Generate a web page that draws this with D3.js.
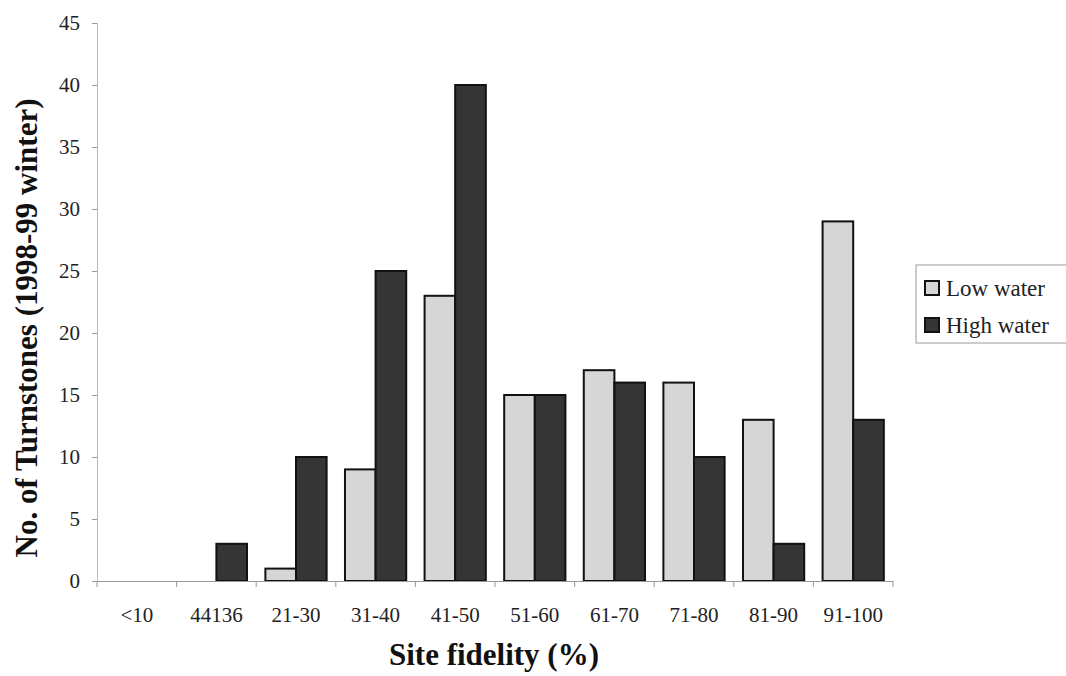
<!DOCTYPE html>
<html><head><meta charset="utf-8">
<script src="https://cdn.jsdelivr.net/npm/d3@7/dist/d3.min.js"></script>
<style>body{margin:0;background:#fff}svg{display:block}text{font-family:"Liberation Serif","Times New Roman",serif}</style>
</head><body>
<svg id="c" width="1066" height="676"></svg>
<script>
const categories = ["<10","44136","21-30","31-40","41-50","51-60","61-70","71-80","81-90","91-100"];
const lowWater = [0,0,1,9,23,15,17,16,13,29];
const highWater = [0,3,10,25,40,15,16,10,3,13];
const seriesNames = ["Low water","High water"];
const yTicks = [0,5,10,15,20,25,30,35,40,45];

(function(){
const svg = d3.select("#c");
const mLeft = 97, mRight = 893, mTop = 23, mBottom = 581;
const x = d3.scaleBand().domain(categories).range([mLeft, mRight]).paddingInner(0).paddingOuter(0);
const xs = d3.scaleBand().domain(seriesNames).range([0, x.bandwidth()]).paddingInner(0).paddingOuter(0.3);
const y = d3.scaleLinear().domain([0,45]).range([mBottom, mTop]);
const fills = ["#d6d6d6","#353535"];

// bars
const data = [lowWater, highWater];
seriesNames.forEach((s, si) => {
  svg.append("g").selectAll("rect").data(categories.map((c,i)=>({c, v:data[si][i]})).filter(d=>d.v>0))
    .join("rect")
    .attr("x", d => x(d.c) + xs(s))
    .attr("y", d => y(d.v))
    .attr("width", xs.bandwidth())
    .attr("height", d => y(0) - y(d.v))
    .attr("fill", fills[si])
    .attr("stroke", "#111")
    .attr("stroke-width", 2);
});

// y axis
const ya = svg.append("g").attr("transform", `translate(${mLeft},0)`)
  .call(d3.axisLeft(y).tickValues(yTicks).tickSize(5).tickPadding(12));
ya.select(".domain").attr("stroke", "#bbb");
ya.selectAll(".tick line").attr("stroke", "#999");
ya.selectAll(".tick text").attr("font-size", 21).attr("fill", "#222").attr("font-family", '"Liberation Serif",serif');

// x axis
const xa = svg.append("g").attr("transform", `translate(0,${mBottom})`)
  .call(d3.axisBottom(x).tickSize(0).tickPadding(26));
xa.select(".domain").attr("stroke", "#999");
xa.selectAll(".tick text").attr("font-size", 21).attr("fill", "#222").attr("font-family", '"Liberation Serif",serif');
const bounds = categories.map(c => x(c)).concat([mRight]);
svg.append("g").selectAll("line").data(bounds).join("line")
  .attr("x1", d => d).attr("x2", d => d).attr("y1", mBottom).attr("y2", mBottom + 6)
  .attr("stroke", "#999");

// titles
svg.append("text").attr("x", 494).attr("y", 665).attr("text-anchor", "middle")
  .attr("font-size", 31).attr("font-weight", "bold").attr("fill", "#111").text("Site fidelity (%)");
svg.append("text").attr("transform", "translate(37,328) rotate(-90)").attr("text-anchor", "middle")
  .attr("font-size", 31).attr("font-weight", "bold").attr("fill", "#111").text("No. of Turnstones (1998-99 winter)");

// legend
const lg = svg.append("g");
lg.append("rect").attr("x", 916).attr("y", 265).attr("width", 160).attr("height", 78)
  .attr("fill", "none").attr("stroke", "#999").attr("stroke-width", 1);
seriesNames.forEach((s, i) => {
  const yy = 281 + i * 37;
  lg.append("rect").attr("x", 925).attr("y", yy).attr("width", 14).attr("height", 14)
    .attr("fill", fills[i]).attr("stroke", "#111").attr("stroke-width", 2);
  lg.append("text").attr("x", 946).attr("y", yy + 15).attr("font-size", 23).attr("fill", "#222").text(s);
});
})();
</script>
</body></html>
